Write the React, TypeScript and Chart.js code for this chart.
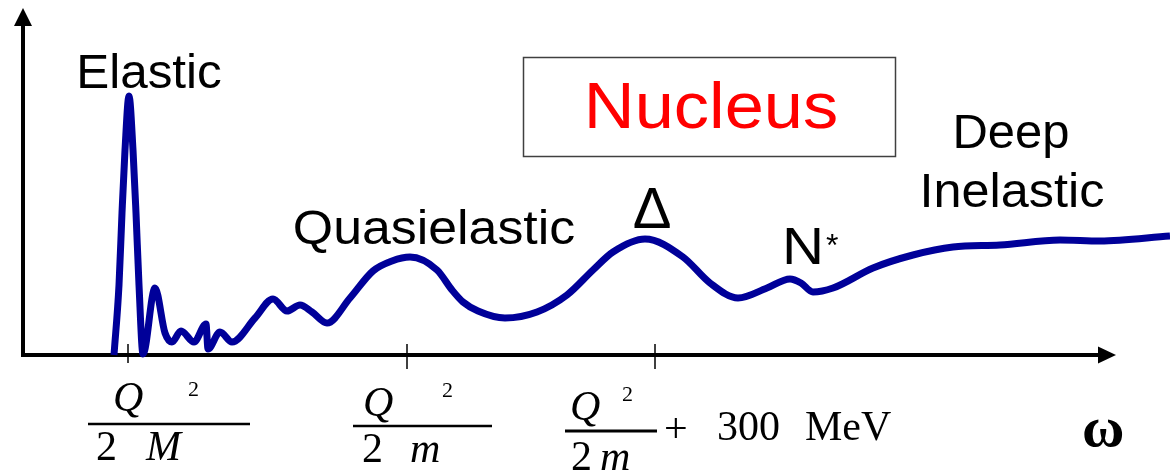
import React, { useEffect, useRef } from "react";
import { Chart, registerables } from "chart.js";

Chart.register(...registerables);

// energy transfer ω (arbitrary units along the axis)
const omega = [
  114, 119, 122, 125, 129, 133, 136, 139, 143, 155, 165, 172, 181, 194, 206, 208,
  220, 232, 255, 273, 287, 300, 312, 327, 350, 373, 392, 410, 437, 452, 463, 478,
  505, 537, 567, 593, 613, 645, 683, 710, 738, 767, 790, 801, 813, 833, 873, 913,
  953, 1000, 1060, 1100, 1170,
];
// cross-section (arbitrary units)
const response = [
  0, 70, 142, 205, 259, 205, 142, 70, 1, 67, 22, 13, 24, 13, 31, 6,
  23, 13, 37, 56, 44, 50, 43, 32, 57, 84, 94, 98, 85, 65, 53, 44,
  37, 43, 60, 85, 103, 116, 98, 72, 57, 67, 76, 72, 63, 67, 87, 100,
  108, 110, 115, 114, 119,
];
// tick positions on the ω axis: Q²/2M, Q²/2m, Q²/2m + 300 MeV
const tickOmega = [128, 407, 655];
const regionLabels = ["Elastic", "Quasielastic", "Δ", "N", "Deep", "Inelastic"];
const boxTitle = "Nucleus";
const axisLabel = "ω";

const CURVE = "#000099";
const SANS = '"Liberation Sans", Arial, sans-serif';
const SERIF = '"Liberation Serif", "Times New Roman", serif';

function txt(
  ctx: CanvasRenderingContext2D,
  s: string,
  x: number,
  y: number,
  font: string,
  align: CanvasTextAlign = "left",
  color = "#000",
  sx = 1
) {
  ctx.save();
  ctx.font = font;
  ctx.fillStyle = color;
  ctx.textAlign = align;
  ctx.textBaseline = "alphabetic";
  ctx.translate(x, y);
  ctx.scale(sx, 1);
  ctx.fillText(s, 0, 0);
  ctx.restore();
}

const diagram = {
  id: "diagram",
  beforeDraw(chart: any) {
    const ctx = chart.ctx as CanvasRenderingContext2D;
    ctx.save();
    ctx.fillStyle = "#fff";
    ctx.fillRect(0, 0, chart.width, chart.height);
    ctx.restore();
  },
  beforeDatasetsDraw(chart: any) {
    const ctx = chart.ctx as CanvasRenderingContext2D;
    const X = (v: number) => chart.scales.x.getPixelForValue(v);
    const Y = (v: number) => chart.scales.y.getPixelForValue(v);
    const x0 = X(23);
    const y0 = Y(0);
    const yTip = Y(347);
    const xTip = X(1116);
    ctx.save();
    ctx.strokeStyle = "#000";
    ctx.fillStyle = "#000";
    ctx.lineWidth = 4;
    ctx.lineCap = "butt";
    // y axis
    ctx.beginPath();
    ctx.moveTo(x0, y0 + 2);
    ctx.lineTo(x0, yTip + 14);
    ctx.stroke();
    ctx.beginPath();
    ctx.moveTo(x0, yTip);
    ctx.lineTo(x0 - 9, yTip + 18);
    ctx.lineTo(x0 + 9, yTip + 18);
    ctx.closePath();
    ctx.fill();
    // x axis
    ctx.beginPath();
    ctx.moveTo(x0 - 2, y0);
    ctx.lineTo(xTip - 14, y0);
    ctx.stroke();
    ctx.beginPath();
    ctx.moveTo(xTip, y0);
    ctx.lineTo(xTip - 18, y0 - 8.5);
    ctx.lineTo(xTip - 18, y0 + 8.5);
    ctx.closePath();
    ctx.fill();
    // ticks
    ctx.lineWidth = 1.5;
    tickOmega.forEach((t, i) => {
      const tx = X(t);
      ctx.beginPath();
      ctx.moveTo(tx, y0 - 11);
      ctx.lineTo(tx, y0 + (i === 0 ? 8 : 14));
      ctx.stroke();
    });
    ctx.restore();
  },
  afterDatasetsDraw(chart: any) {
    const ctx = chart.ctx as CanvasRenderingContext2D;
    const X = (v: number) => chart.scales.x.getPixelForValue(v);
    const t1 = X(tickOmega[0]);
    const t2 = X(tickOmega[1]);
    const t3 = X(tickOmega[2]);

    // region labels
    txt(ctx, regionLabels[0], 149, 88, `48px ${SANS}`, "center", "#000", 1.03);
    txt(ctx, regionLabels[1], 434, 244, `48px ${SANS}`, "center", "#000", 1.08);
    txt(ctx, regionLabels[2], 652, 228, `58px ${SANS}`, "center", "#000", 1.0);
    txt(ctx, regionLabels[3], 782, 264, `52px ${SANS}`, "left", "#000", 1.12);
    txt(ctx, "*", 826, 256, `32px ${SANS}`, "left");
    txt(ctx, regionLabels[4], 1011, 148, `48px ${SANS}`, "center", "#000", 1.02);
    txt(ctx, regionLabels[5], 1012, 207, `48px ${SANS}`, "center", "#000", 1.05);

    // title box
    ctx.save();
    ctx.strokeStyle = "#404040";
    ctx.lineWidth = 1.5;
    ctx.strokeRect(523.5, 57.5, 372, 99);
    ctx.restore();
    txt(ctx, boxTitle, 711, 128, `64px ${SANS}`, "center", "#ff0000", 1.1);

    // fraction labels under the ticks
    const bar = (a: number, b: number, y: number, w: number) => {
      ctx.save();
      ctx.strokeStyle = "#000";
      ctx.lineWidth = w;
      ctx.beginPath();
      ctx.moveTo(a, y);
      ctx.lineTo(b, y);
      ctx.stroke();
      ctx.restore();
    };
    // Q²/2M
    txt(ctx, "Q", t1 - 15, 411, `italic 42px ${SERIF}`);
    txt(ctx, "2", t1 + 60, 396, `22px ${SERIF}`);
    bar(t1 - 40, t1 + 122, 424, 2.5);
    txt(ctx, "2", t1 - 32, 460, `42px ${SERIF}`);
    txt(ctx, "M", t1 + 18, 460, `italic 42px ${SERIF}`);
    // Q²/2m
    txt(ctx, "Q", t2 - 44, 416, `italic 42px ${SERIF}`);
    txt(ctx, "2", t2 + 35, 397, `22px ${SERIF}`);
    bar(t2 - 54, t2 + 85, 426, 2.5);
    txt(ctx, "2", t2 - 45, 462, `42px ${SERIF}`);
    txt(ctx, "m", t2 + 3, 462, `italic 42px ${SERIF}`);
    // Q²/2m + 300 MeV
    txt(ctx, "Q", t3 - 85, 420, `italic 42px ${SERIF}`);
    txt(ctx, "2", t3 - 33, 401, `22px ${SERIF}`);
    bar(t3 - 90, t3 + 2, 431, 3);
    txt(ctx, "2", t3 - 84, 470, `42px ${SERIF}`);
    txt(ctx, "m", t3 - 55, 470, `italic 42px ${SERIF}`);
    txt(ctx, "+", t3 + 9, 442, `42px ${SERIF}`);
    txt(ctx, "300", t3 + 62, 440, `42px ${SERIF}`);
    txt(ctx, "MeV", t3 + 150, 440, `42px ${SERIF}`);

    // axis symbol
    txt(ctx, axisLabel, 1082, 446, `bold 58px ${SERIF}`);
  },
};

export default function App() {
  const ref = useRef<HTMLCanvasElement>(null);
  useEffect(() => {
    const canvas = ref.current;
    if (!canvas) return;
    const chart = new Chart(canvas, {
      type: "line",
      data: {
        datasets: [
          {
            data: omega.map((x, i) => ({ x, y: response[i] })),
            borderColor: CURVE,
            backgroundColor: CURVE,
            borderWidth: 7,
            pointRadius: 0,
            cubicInterpolationMode: "monotone",
            fill: false,
            clip: false,
            borderCapStyle: "butt",
            borderJoinStyle: "round",
          } as any,
        ],
      },
      options: {
        animation: false,
        responsive: false,
        devicePixelRatio: 1,
        events: [],
        layout: { padding: 0 },
        plugins: { legend: { display: false }, tooltip: { enabled: false } },
        scales: {
          x: { type: "linear", min: 0, max: 1170, display: false },
          y: { type: "linear", min: -120, max: 355, display: false },
        },
      },
      plugins: [diagram],
    });
    return () => chart.destroy();
  }, []);
  return (
    <div style={{ position: "fixed", left: 0, top: 0, width: 1170, height: 475, background: "#fff" }}>
      <canvas ref={ref} width={1170} height={475} style={{ display: "block" }} />
    </div>
  );
}
